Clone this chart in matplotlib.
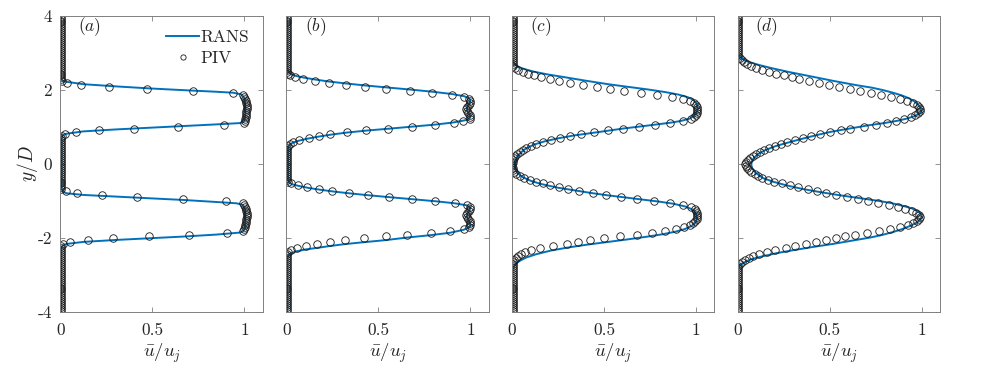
import matplotlib
matplotlib.use('Agg')
import matplotlib.pyplot as plt

plt.rcParams['mathtext.fontset'] = 'cm'
plt.rcParams['font.family'] = 'cmr10'
plt.rcParams['axes.unicode_minus'] = False
plt.rcParams['axes.formatter.use_mathtext'] = True

panel_labels = ['a', 'b', 'c', 'd']
x_ticks = [0, 0.5, 1]
x_tick_labels = ['0', '0.5', '1']
y_ticks = [-4, -2, 0, 2, 4]
y_tick_labels = ['-4', '-2', '0', '2', '4']

# PIV measurement stations (y/D), shared by all panels
y_piv = [
    3.975, 3.922, 3.869, 3.816, 3.763, 3.710, 3.657, 3.604, 3.551, 3.498,
    3.445, 3.392, 3.339, 3.286, 3.233, 3.180, 3.127, 3.074, 3.021, 2.968,
    2.915, 2.862, 2.809, 2.756, 2.703, 2.650, 2.597, 2.544, 2.491, 2.438,
    2.385, 2.332, 2.279, 2.226, 2.173, 2.120, 2.067, 2.014, 1.961, 1.908,
    1.855, 1.802, 1.749, 1.696, 1.643, 1.590, 1.537, 1.484, 1.431, 1.378,
    1.325, 1.272, 1.219, 1.166, 1.113, 1.060, 1.007, 0.954, 0.901, 0.848,
    0.795, 0.742, 0.689, 0.636, 0.583, 0.530, 0.477, 0.424, 0.371, 0.318,
    0.265, 0.212, 0.159, 0.106, 0.053, 0.000, -0.053, -0.106, -0.159, -0.212,
    -0.265, -0.318, -0.371, -0.424, -0.477, -0.530, -0.583, -0.636, -0.689, -0.742,
    -0.795, -0.848, -0.901, -0.954, -1.007, -1.060, -1.113, -1.166, -1.219, -1.272,
    -1.325, -1.378, -1.431, -1.484, -1.537, -1.590, -1.643, -1.696, -1.749, -1.802,
    -1.855, -1.908, -1.961, -2.014, -2.067, -2.120, -2.173, -2.226, -2.279, -2.332,
    -2.385, -2.438, -2.491, -2.544, -2.597, -2.650, -2.703, -2.756, -2.809, -2.862,
    -2.915, -2.968, -3.021, -3.074, -3.127, -3.180, -3.233, -3.286, -3.339, -3.392,
    -3.445, -3.498, -3.551, -3.604, -3.657, -3.710, -3.763, -3.816, -3.869, -3.922,
    -3.975]

# PIV mean velocity u/uj, panel (a)
u_piv_a = [
    0.003, 0.003, 0.003, 0.003, 0.003, 0.003, 0.003, 0.003, 0.003, 0.003,
    0.003, 0.003, 0.003, 0.003, 0.003, 0.003, 0.003, 0.003, 0.003, 0.003,
    0.003, 0.003, 0.003, 0.003, 0.003, 0.003, 0.003, 0.003, 0.003, 0.003,
    0.003, 0.003, 0.003, 0.008, 0.034, 0.112, 0.262, 0.470, 0.720, 0.940,
    0.995, 1.000, 1.005, 1.010, 1.010, 1.012, 1.012, 1.012, 1.010, 1.010,
    1.010, 1.008, 1.006, 1.003, 0.998, 0.890, 0.640, 0.400, 0.210, 0.083,
    0.025, 0.008, 0.004, 0.004, 0.004, 0.004, 0.004, 0.004, 0.004, 0.004,
    0.004, 0.004, 0.004, 0.004, 0.004, 0.004, 0.004, 0.004, 0.004, 0.004,
    0.004, 0.004, 0.004, 0.004, 0.004, 0.004, 0.004, 0.004, 0.004, 0.030,
    0.090, 0.226, 0.416, 0.665, 0.900, 0.992, 1.000, 1.005, 1.010, 1.010,
    1.012, 1.012, 1.012, 1.010, 1.010, 1.008, 1.006, 1.004, 1.000, 0.995,
    0.906, 0.700, 0.480, 0.289, 0.148, 0.052, 0.016, 0.006, 0.003, 0.003,
    0.003, 0.003, 0.003, 0.003, 0.003, 0.003, 0.003, 0.003, 0.003, 0.003,
    0.003, 0.003, 0.003, 0.003, 0.003, 0.003, 0.003, 0.003, 0.003, 0.003,
    0.003, 0.003, 0.003, 0.003, 0.003, 0.003, 0.003, 0.003, 0.003, 0.003,
    0.003]

# panel (b)
u_piv_b = [
    0.004, 0.004, 0.004, 0.004, 0.004, 0.004, 0.004, 0.004, 0.004, 0.004,
    0.004, 0.004, 0.004, 0.004, 0.004, 0.004, 0.004, 0.004, 0.004, 0.004,
    0.004, 0.004, 0.004, 0.004, 0.004, 0.004, 0.004, 0.004, 0.006, 0.010,
    0.020, 0.047, 0.093, 0.157, 0.230, 0.324, 0.426, 0.543, 0.674, 0.792,
    0.900, 0.967, 0.995, 1.000, 0.998, 0.990, 0.982, 0.978, 0.980, 0.988,
    0.997, 1.000, 0.998, 0.962, 0.909, 0.807, 0.681, 0.555, 0.435, 0.328,
    0.240, 0.180, 0.124, 0.071, 0.038, 0.020, 0.011, 0.006, 0.006, 0.006,
    0.006, 0.006, 0.006, 0.006, 0.006, 0.006, 0.006, 0.006, 0.006, 0.006,
    0.006, 0.006, 0.006, 0.006, 0.011, 0.025, 0.065, 0.111, 0.175, 0.248,
    0.342, 0.444, 0.557, 0.685, 0.809, 0.918, 0.982, 1.000, 0.998, 0.990,
    0.982, 0.978, 0.980, 0.988, 0.997, 1.000, 1.000, 0.995, 0.964, 0.891,
    0.785, 0.656, 0.539, 0.424, 0.319, 0.235, 0.166, 0.106, 0.056, 0.027,
    0.011, 0.006, 0.004, 0.004, 0.004, 0.004, 0.004, 0.004, 0.004, 0.004,
    0.004, 0.004, 0.004, 0.004, 0.004, 0.004, 0.004, 0.004, 0.004, 0.004,
    0.004, 0.004, 0.004, 0.004, 0.004, 0.004, 0.004, 0.004, 0.004, 0.004,
    0.004]

# panel (c)
u_piv_c = [
    0.003, 0.003, 0.003, 0.003, 0.003, 0.003, 0.003, 0.003, 0.003, 0.003,
    0.003, 0.003, 0.003, 0.003, 0.003, 0.003, 0.003, 0.003, 0.003, 0.003,
    0.003, 0.003, 0.003, 0.003, 0.003, 0.005, 0.014, 0.032, 0.060, 0.087,
    0.119, 0.159, 0.208, 0.258, 0.314, 0.388, 0.462, 0.534, 0.608, 0.700,
    0.790, 0.870, 0.930, 0.970, 0.990, 1.000, 1.005, 1.008, 1.008, 1.005,
    1.000, 0.990, 0.975, 0.930, 0.860, 0.775, 0.690, 0.605, 0.520, 0.445,
    0.375, 0.315, 0.262, 0.213, 0.168, 0.132, 0.101, 0.077, 0.058, 0.042,
    0.029, 0.018, 0.011, 0.006, 0.003, 0.002, 0.002, 0.003, 0.006, 0.011,
    0.023, 0.042, 0.065, 0.096, 0.132, 0.168, 0.209, 0.254, 0.303, 0.366,
    0.438, 0.513, 0.590, 0.680, 0.770, 0.860, 0.930, 0.972, 0.993, 1.000,
    1.003, 1.005, 1.005, 1.003, 0.997, 0.985, 0.965, 0.935, 0.890, 0.830,
    0.760, 0.680, 0.585, 0.500, 0.425, 0.360, 0.297, 0.222, 0.155, 0.105,
    0.070, 0.050, 0.033, 0.020, 0.011, 0.005, 0.003, 0.003, 0.003, 0.003,
    0.003, 0.003, 0.003, 0.003, 0.003, 0.003, 0.003, 0.003, 0.003, 0.003,
    0.003, 0.003, 0.003, 0.003, 0.003, 0.003, 0.003, 0.003, 0.003, 0.003,
    0.003]

# panel (d)
u_piv_d = [
    0.003, 0.003, 0.003, 0.003, 0.003, 0.003, 0.003, 0.003, 0.003, 0.003,
    0.003, 0.003, 0.003, 0.003, 0.003, 0.003, 0.003, 0.003, 0.003, 0.003,
    0.004, 0.011, 0.022, 0.035, 0.052, 0.075, 0.100, 0.133, 0.170, 0.210,
    0.252, 0.295, 0.335, 0.385, 0.440, 0.495, 0.550, 0.610, 0.667, 0.725,
    0.780, 0.835, 0.880, 0.920, 0.950, 0.972, 0.985, 0.990, 0.990, 0.982,
    0.965, 0.940, 0.905, 0.862, 0.810, 0.750, 0.685, 0.610, 0.560, 0.500,
    0.445, 0.398, 0.355, 0.309, 0.269, 0.233, 0.201, 0.170, 0.143, 0.119,
    0.101, 0.083, 0.068, 0.056, 0.047, 0.041, 0.043, 0.050, 0.061, 0.074,
    0.092, 0.110, 0.134, 0.165, 0.200, 0.240, 0.285, 0.330, 0.380, 0.430,
    0.480, 0.535, 0.595, 0.655, 0.710, 0.765, 0.820, 0.870, 0.910, 0.945,
    0.970, 0.985, 0.990, 0.985, 0.975, 0.955, 0.925, 0.880, 0.830, 0.770,
    0.700, 0.640, 0.585, 0.535, 0.480, 0.423, 0.370, 0.310, 0.265, 0.205,
    0.162, 0.118, 0.085, 0.060, 0.040, 0.022, 0.012, 0.004, 0.003, 0.003,
    0.003, 0.003, 0.003, 0.003, 0.003, 0.003, 0.003, 0.003, 0.003, 0.003,
    0.003, 0.003, 0.003, 0.003, 0.003, 0.003, 0.003, 0.003, 0.003, 0.003,
    0.003]

# RANS profiles (y/D, u/uj)
y_rans_a = [4.0, 2.30, 2.24, 2.215, 2.15, 2.09, 2.036, 1.99, 1.946, 1.92, 1.875,
            1.766, 1.54, 1.27, 1.14, 1.10, 1.065, 1.02, 0.975, 0.93, 0.876, 0.814,
            0.77, 0.69, -0.66, -0.75, -0.795, -0.84, -0.885, -0.93, -0.975, -1.03,
            -1.065, -1.11, -1.245, -1.695, -1.81, -1.856, -1.91, -1.964, -2.009,
            -2.054, -2.108, -2.162, -2.207, -2.28, -4.0]
u_rans_a = [0.004, 0.004, 0.013, 0.034, 0.125, 0.306, 0.486, 0.667, 0.848, 0.94, 0.984,
            1.002, 1.005, 1.005, 0.998, 0.975, 0.848, 0.667, 0.486, 0.306, 0.125, 0.034,
            0.013, 0.007, 0.007, 0.013, 0.034, 0.125, 0.306, 0.486, 0.667, 0.848,
            0.957, 0.993, 1.005, 1.005, 0.996, 0.975, 0.848, 0.667, 0.486,
            0.306, 0.125, 0.034, 0.013, 0.004, 0.004]

y_rans_b = [4.0, 2.58, 2.49, 2.435, 2.38, 2.33, 2.276, 2.223, 2.17, 2.117, 2.064,
            2.005, 1.948, 1.885, 1.825, 1.76, 1.70, 1.62, 1.55, 1.48, 1.41, 1.34,
            1.26, 1.20, 1.17, 1.115, 1.06, 1.005, 0.95, 0.90, 0.845, 0.79, 0.735,
            0.68, 0.625, 0.57, 0.51, 0.44, -0.44, -0.50, -0.55, -0.60, -0.65, -0.70,
            -0.75, -0.80, -0.85, -0.90, -0.955, -1.01, -1.065, -1.12, -1.18, -1.26,
            -1.34, -1.41, -1.48, -1.56, -1.64, -1.70, -1.78, -1.86, -1.925, -1.99,
            -2.06, -2.114, -2.167, -2.22, -2.27, -2.31, -2.36, -2.41, -2.46, -2.55, -4.0]
u_rans_b = [0.005, 0.005, 0.010, 0.020, 0.047, 0.093, 0.157, 0.230, 0.324, 0.426, 0.543,
            0.674, 0.792, 0.900, 0.967, 0.995, 1.000, 0.995, 0.985, 0.980, 0.985, 0.995,
            1.000, 0.990, 0.965, 0.905, 0.810, 0.685, 0.560, 0.440, 0.330, 0.245, 0.175,
            0.115, 0.068, 0.035, 0.017, 0.009, 0.009, 0.015, 0.030, 0.070, 0.120, 0.185,
            0.260, 0.350, 0.450, 0.560, 0.685, 0.810, 0.915, 0.980, 1.000, 0.995,
            0.985, 0.980, 0.985, 0.995, 1.000, 0.998, 0.964, 0.891, 0.785, 0.656,
            0.539, 0.424, 0.319, 0.235, 0.166, 0.106, 0.056, 0.027, 0.011, 0.005, 0.005]

y_rans_c = [4.0, 2.85, 2.76, 2.71, 2.62, 2.556, 2.484, 2.413, 2.34, 2.25, 2.152,
            2.08, 2.01, 1.94, 1.87, 1.80, 1.73, 1.65, 1.55, 1.45, 1.35, 1.28, 1.22,
            1.16, 1.113, 1.06, 1.007, 0.957, 0.893, 0.83, 0.768, 0.687, 0.606, 0.525,
            0.418, 0.30, 0.175, 0.057, -0.032, -0.148, -0.256, -0.364, -0.464, -0.545,
            -0.644, -0.715, -0.787, -0.85, -0.904, -0.96, -1.02, -1.08, -1.15, -1.22,
            -1.30, -1.40, -1.50, -1.60, -1.68, -1.76, -1.83, -1.90, -1.965, -2.04,
            -2.11, -2.18, -2.26, -2.34, -2.44, -2.53, -2.62, -2.71, -2.82, -2.95, -4.0]
u_rans_c = [0.003, 0.003, 0.006, 0.011, 0.032, 0.069, 0.123, 0.195, 0.285, 0.394, 0.520,
            0.628, 0.736, 0.830, 0.905, 0.955, 0.985, 1.000, 1.008, 1.008, 1.000, 0.985, 0.965,
            0.920, 0.865, 0.780, 0.695, 0.610, 0.520, 0.430, 0.339, 0.249, 0.177, 0.123,
            0.077, 0.047, 0.027, 0.016, 0.014, 0.018, 0.032, 0.060, 0.105, 0.159,
            0.249, 0.339, 0.430, 0.520, 0.610, 0.700, 0.800, 0.880, 0.940, 0.975,
            0.995, 1.005, 1.005, 0.995, 0.975, 0.940, 0.890, 0.820, 0.736, 0.628,
            0.520, 0.411, 0.303, 0.213, 0.132, 0.077, 0.042, 0.018, 0.005, 0.003, 0.003]

y_rans_d = [4.0, 3.0, 2.95, 2.89, 2.82, 2.745, 2.665, 2.575, 2.476, 2.368, 2.242,
            2.125, 2.052, 1.99, 1.92, 1.85, 1.77, 1.68, 1.60, 1.50, 1.43, 1.36, 1.29,
            1.22, 1.16, 1.10, 1.04, 0.984, 0.93, 0.858, 0.777, 0.689, 0.583, 0.477,
            0.371, 0.265, 0.159, 0.053, -0.03, -0.122, -0.256, -0.383, -0.482, -0.58,
            -0.68, -0.76, -0.833, -0.887, -0.945, -1.0, -1.06, -1.13, -1.20, -1.28,
            -1.36, -1.42, -1.50, -1.58, -1.67, -1.76, -1.84, -1.92, -1.99, -2.07,
            -2.163, -2.244, -2.333, -2.414, -2.505, -2.576, -2.657, -2.73, -2.82, -4.0]
u_rans_d = [0.003, 0.003, 0.005, 0.011, 0.029, 0.065, 0.119, 0.192, 0.282, 0.391, 0.517,
            0.644, 0.734, 0.790, 0.844, 0.890, 0.931, 0.962, 0.980, 0.995, 1.000, 0.990, 0.962,
            0.918, 0.865, 0.795, 0.710, 0.645, 0.580, 0.500, 0.430, 0.360, 0.280, 0.205,
            0.150, 0.110, 0.088, 0.076, 0.074, 0.079, 0.101, 0.137, 0.192, 0.264,
            0.354, 0.445, 0.535, 0.608, 0.690, 0.765, 0.835, 0.895, 0.945, 0.980,
            0.997, 1.000, 0.993, 0.975, 0.940, 0.895, 0.845, 0.785, 0.720, 0.626,
            0.517, 0.409, 0.300, 0.209, 0.128, 0.074, 0.038, 0.014, 0.002, 0.002]

u_piv_all = [u_piv_a, u_piv_b, u_piv_c, u_piv_d]
y_rans_all = [y_rans_a, y_rans_b, y_rans_c, y_rans_d]
u_rans_all = [u_rans_a, u_rans_b, u_rans_c, u_rans_d]

for arr in u_piv_all:
    assert len(arr) == len(y_piv), len(arr)
for ya, ua in zip(y_rans_all, u_rans_all):
    assert len(ya) == len(ua), (len(ya), len(ua))

fig = plt.figure(figsize=(9.87, 3.69), dpi=100)
lefts = [0.0611, 0.2901, 0.5187, 0.7474]
spine_col = '#808080'
text_col = '#262626'

for i, lab in enumerate(panel_labels):
    ax = fig.add_axes([lefts[i], 0.1545, 0.2051, 0.8030])
    ax.plot(u_rans_all[i], y_rans_all[i], color='#0072BD', lw=1.4, label='RANS')
    ax.plot(u_piv_all[i], y_piv, ls='none', marker='o', ms=5.4, mfc='none',
            mec='#1a1a1a', mew=0.6, label='PIV')
    ax.set_xlim(0, 1.1)
    ax.set_ylim(-4, 4)
    ax.set_xticks(x_ticks)
    ax.set_xticklabels(x_tick_labels)
    ax.set_yticks(y_ticks)
    if i == 0:
        ax.set_yticklabels(y_tick_labels)
        ax.set_ylabel(r'$y/D$', fontsize=14, color=text_col, labelpad=-2)
    else:
        ax.set_yticklabels([])
    ax.tick_params(direction='in', top=True, right=True, length=3.5, width=0.6,
                   color=spine_col, labelcolor=text_col, labelsize=12.5)
    ax.tick_params(axis='x', pad=8)
    ax.tick_params(axis='y', pad=6)
    for s in ax.spines.values():
        s.set_color(spine_col)
        s.set_linewidth(0.7)
    ax.set_xlabel(r'$\bar{u}/u_j$', fontsize=13.5, color=text_col, labelpad=2)
    ax.text(0.143, 0.962, '$(' + lab + ')$', transform=ax.transAxes,
            ha='center', va='center', fontsize=12.5, color=text_col)
    if i == 0:
        leg = ax.legend(loc='upper right', frameon=False, fontsize=12.5,
                        handlelength=1.9, handletextpad=0.05, labelspacing=0.35,
                        borderaxespad=0.4, markerscale=0.7)
        for t in leg.get_texts():
            t.set_color(text_col)

fig.savefig('out.png', dpi=100)
